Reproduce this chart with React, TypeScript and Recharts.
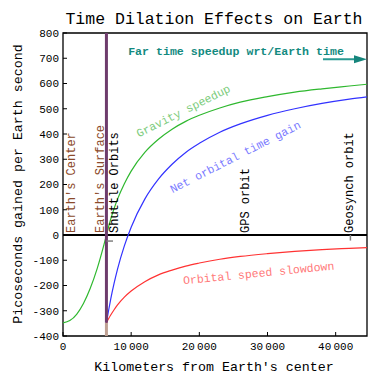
import React from 'react';
import { LineChart, Line, XAxis, YAxis, ReferenceLine, ReferenceArea, ReferenceDot } from 'recharts';

const FONT = '"Liberation Mono", "DejaVu Sans Mono", monospace';

// distance from Earth's center (km) and picoseconds gained per Earth second
const innerKm = [0, 1000, 2000, 3000, 4000, 5000, 6000, 6371];
const innerGravity = [-348, -339, -314, -271, -211, -134, -39, 0];

const outerKm = [6371, 6700, 7000, 7500, 8000, 9000, 10000, 12000, 14000, 16000, 18000, 20000, 23000, 26000, 30000, 34000, 38000, 42000, 44597];
const outerGravity = [0, 34, 63, 105, 142, 203, 253, 327, 379, 419, 450, 474, 503, 526, 548, 566, 579, 590, 597];
const orbitalSlowdown = [-348, -331, -317, -296, -277, -246, -222, -185, -158, -139, -123, -111, -96, -85, -74, -65, -58, -53, -50];
const netGain = [-348, -297, -254, -191, -135, -43, 31, 142, 221, 280, 327, 363, 407, 440, 474, 500, 521, 538, 547];

const xTicks = [0, 10000, 20000, 30000, 40000];
const yTicks = [-400, -300, -200, -100, 0, 100, 200, 300, 400, 500, 600, 700, 800];

const EARTH_RADIUS = 6371;
const X_MAX = 44597;
const FAR_SPEEDUP = 696;

const gravityRows = [
  ...innerKm.map((km, i) => ({ km, v: innerGravity[i] })),
  ...outerKm.slice(1).map((km, i) => ({ km, v: outerGravity[i + 1] })),
];
const slowRows = outerKm.map((km, i) => ({ km, v: orbitalSlowdown[i] }));
const netRows = outerKm.map((km, i) => ({ km, v: netGain[i] }));

const textAt = (text: string, color: string, angle: number, anchor: string, size: number, weight = 'normal') =>
  (props: any) => {
    const { x, y } = props.viewBox;
    return (
      <text
        x={x}
        y={y}
        transform={`rotate(${angle} ${x} ${y})`}
        textAnchor={anchor}
        fill={color}
        fontSize={size}
        fontWeight={weight}
        fontFamily={FONT}
      >
        {text}
      </text>
    );
  };

const Arrow = (props: any) => {
  const { x1, y1, x2, y2 } = props;
  return (
    <g>
      <line x1={x1} y1={y1} x2={x2 - 8} y2={y2} stroke="#2a9a92" strokeWidth={2} />
      <polygon points={`${x2},${y2} ${x2 - 13},${y2 - 4} ${x2 - 13},${y2 + 4}`} fill="#16857c" />
    </g>
  );
};

const fmt = (v: number) => (v >= 10000 ? `${Math.floor(v / 1000)}\u2009${String(v % 1000).padStart(3, '0')}` : String(v));

const notes = [
  { x: 1760, text: "Earth's Center", color: '#8b4a2b' },
  { x: 6015, text: "Earth's Surface", color: '#8b4a2b' },
  { x: 8068, text: 'Shuttle Orbits', color: '#000' },
  { x: 27330, text: 'GPS orbit', color: '#000' },
  { x: 42600, text: 'Geosynch orbit', color: '#000' },
];

export default function App() {
  return (
    <div style={{ position: 'absolute', left: 0, top: 0, background: '#fff' }}>
      <LineChart width={389} height={384} margin={{ top: 33, right: 22, bottom: 18, left: 18 }}>
        <text x={214} y={24} textAnchor="middle" fontSize={16.5} fontFamily={FONT} fill="#000">
          Time Dilation Effects on Earth
        </text>
        <text x={214} y={371} textAnchor="middle" fontSize={13.3} fontFamily={FONT} fill="#000">
          Kilometers from Earth's center
        </text>
        <text x={0} y={0} transform="translate(22,184) rotate(-90)" textAnchor="middle" fontSize={13.3} fontFamily={FONT} fill="#000">
          Picoseconds gained per Earth second
        </text>
        <XAxis
          dataKey="km"
          type="number"
          domain={[0, X_MAX]}
          ticks={xTicks}
          tickFormatter={fmt}
          height={30}
          tickSize={-4}
          tickMargin={10}
          axisLine={false}
          tickLine={{ stroke: '#000' }}
          tick={{ fontSize: 11, fontFamily: FONT, fill: '#000' }}
          allowDataOverflow
        />
        <YAxis
          type="number"
          domain={[-400, 800]}
          ticks={yTicks}
          width={45}
          tickSize={-4}
          tickMargin={8}
          axisLine={false}
          tickLine={{ stroke: '#000' }}
          tick={{ fontSize: 11, fontFamily: FONT, fill: '#000' }}
          allowDataOverflow
        />
        <ReferenceArea x1={0} x2={X_MAX} y1={-400} y2={800} fill="none" fillOpacity={0} stroke="#000" strokeWidth={1.3} />
        <ReferenceLine y={0} stroke="#000" strokeWidth={1.3} shapeRendering="crispEdges" />
        <Line data={gravityRows} dataKey="v" type="monotone" stroke="#2fb82f" strokeWidth={1.2} dot={false} isAnimationActive={false} />
        <Line data={netRows} dataKey="v" type="monotone" stroke="#3232ff" strokeWidth={1.2} dot={false} isAnimationActive={false} />
        <Line data={slowRows} dataKey="v" type="monotone" stroke="#ff3232" strokeWidth={1.2} dot={false} isAnimationActive={false} />
        <ReferenceLine segment={[{ x: EARTH_RADIUS, y: -400 }, { x: EARTH_RADIUS, y: -348 }]} stroke="#bfa092" strokeWidth={3} />
        <ReferenceLine segment={[{ x: EARTH_RADIUS, y: -348 }, { x: EARTH_RADIUS, y: 800 }]} stroke="#6e3c6c" strokeWidth={3} />
        <ReferenceLine segment={[{ x: EARTH_RADIUS, y: -24 }, { x: 7335, y: -24 }]} stroke="#808080" strokeWidth={1.5} />
        <ReferenceLine segment={[{ x: 42164, y: 0 }, { x: 42164, y: -22 }]} stroke="#808080" strokeWidth={1.5} />
        <ReferenceLine segment={[{ x: 38140, y: FAR_SPEEDUP }, { x: X_MAX, y: FAR_SPEEDUP }]} shape={Arrow} ifOverflow="visible" />
        {notes.map((n) => (
          <ReferenceDot key={n.text} x={n.x} y={8} r={0} fill="none" stroke="none" label={textAt(n.text, n.color, -90, 'start', 12)} />
        ))}
        <ReferenceDot x={25380} y={711} r={0} fill="none" stroke="none" label={textAt('Far time speedup wrt/Earth time', '#138a80', 0, 'middle', 11.6, 'bold')} />
        <ReferenceDot x={17900} y={478} r={0} fill="none" stroke="none" label={textAt('Gravity speedup', '#7ccc7c', -26.6, 'middle', 11.5)} />
        <ReferenceDot x={25525} y={296} r={0} fill="none" stroke="none" label={textAt('Net orbital time gain', '#7a7aff', -27, 'middle', 11.5)} />
        <ReferenceDot x={28750} y={-166} r={0} fill="none" stroke="none" label={textAt('Orbital speed slowdown', '#ff7a7a', -5.6, 'middle', 11.5)} />
      </LineChart>
    </div>
  );
}
